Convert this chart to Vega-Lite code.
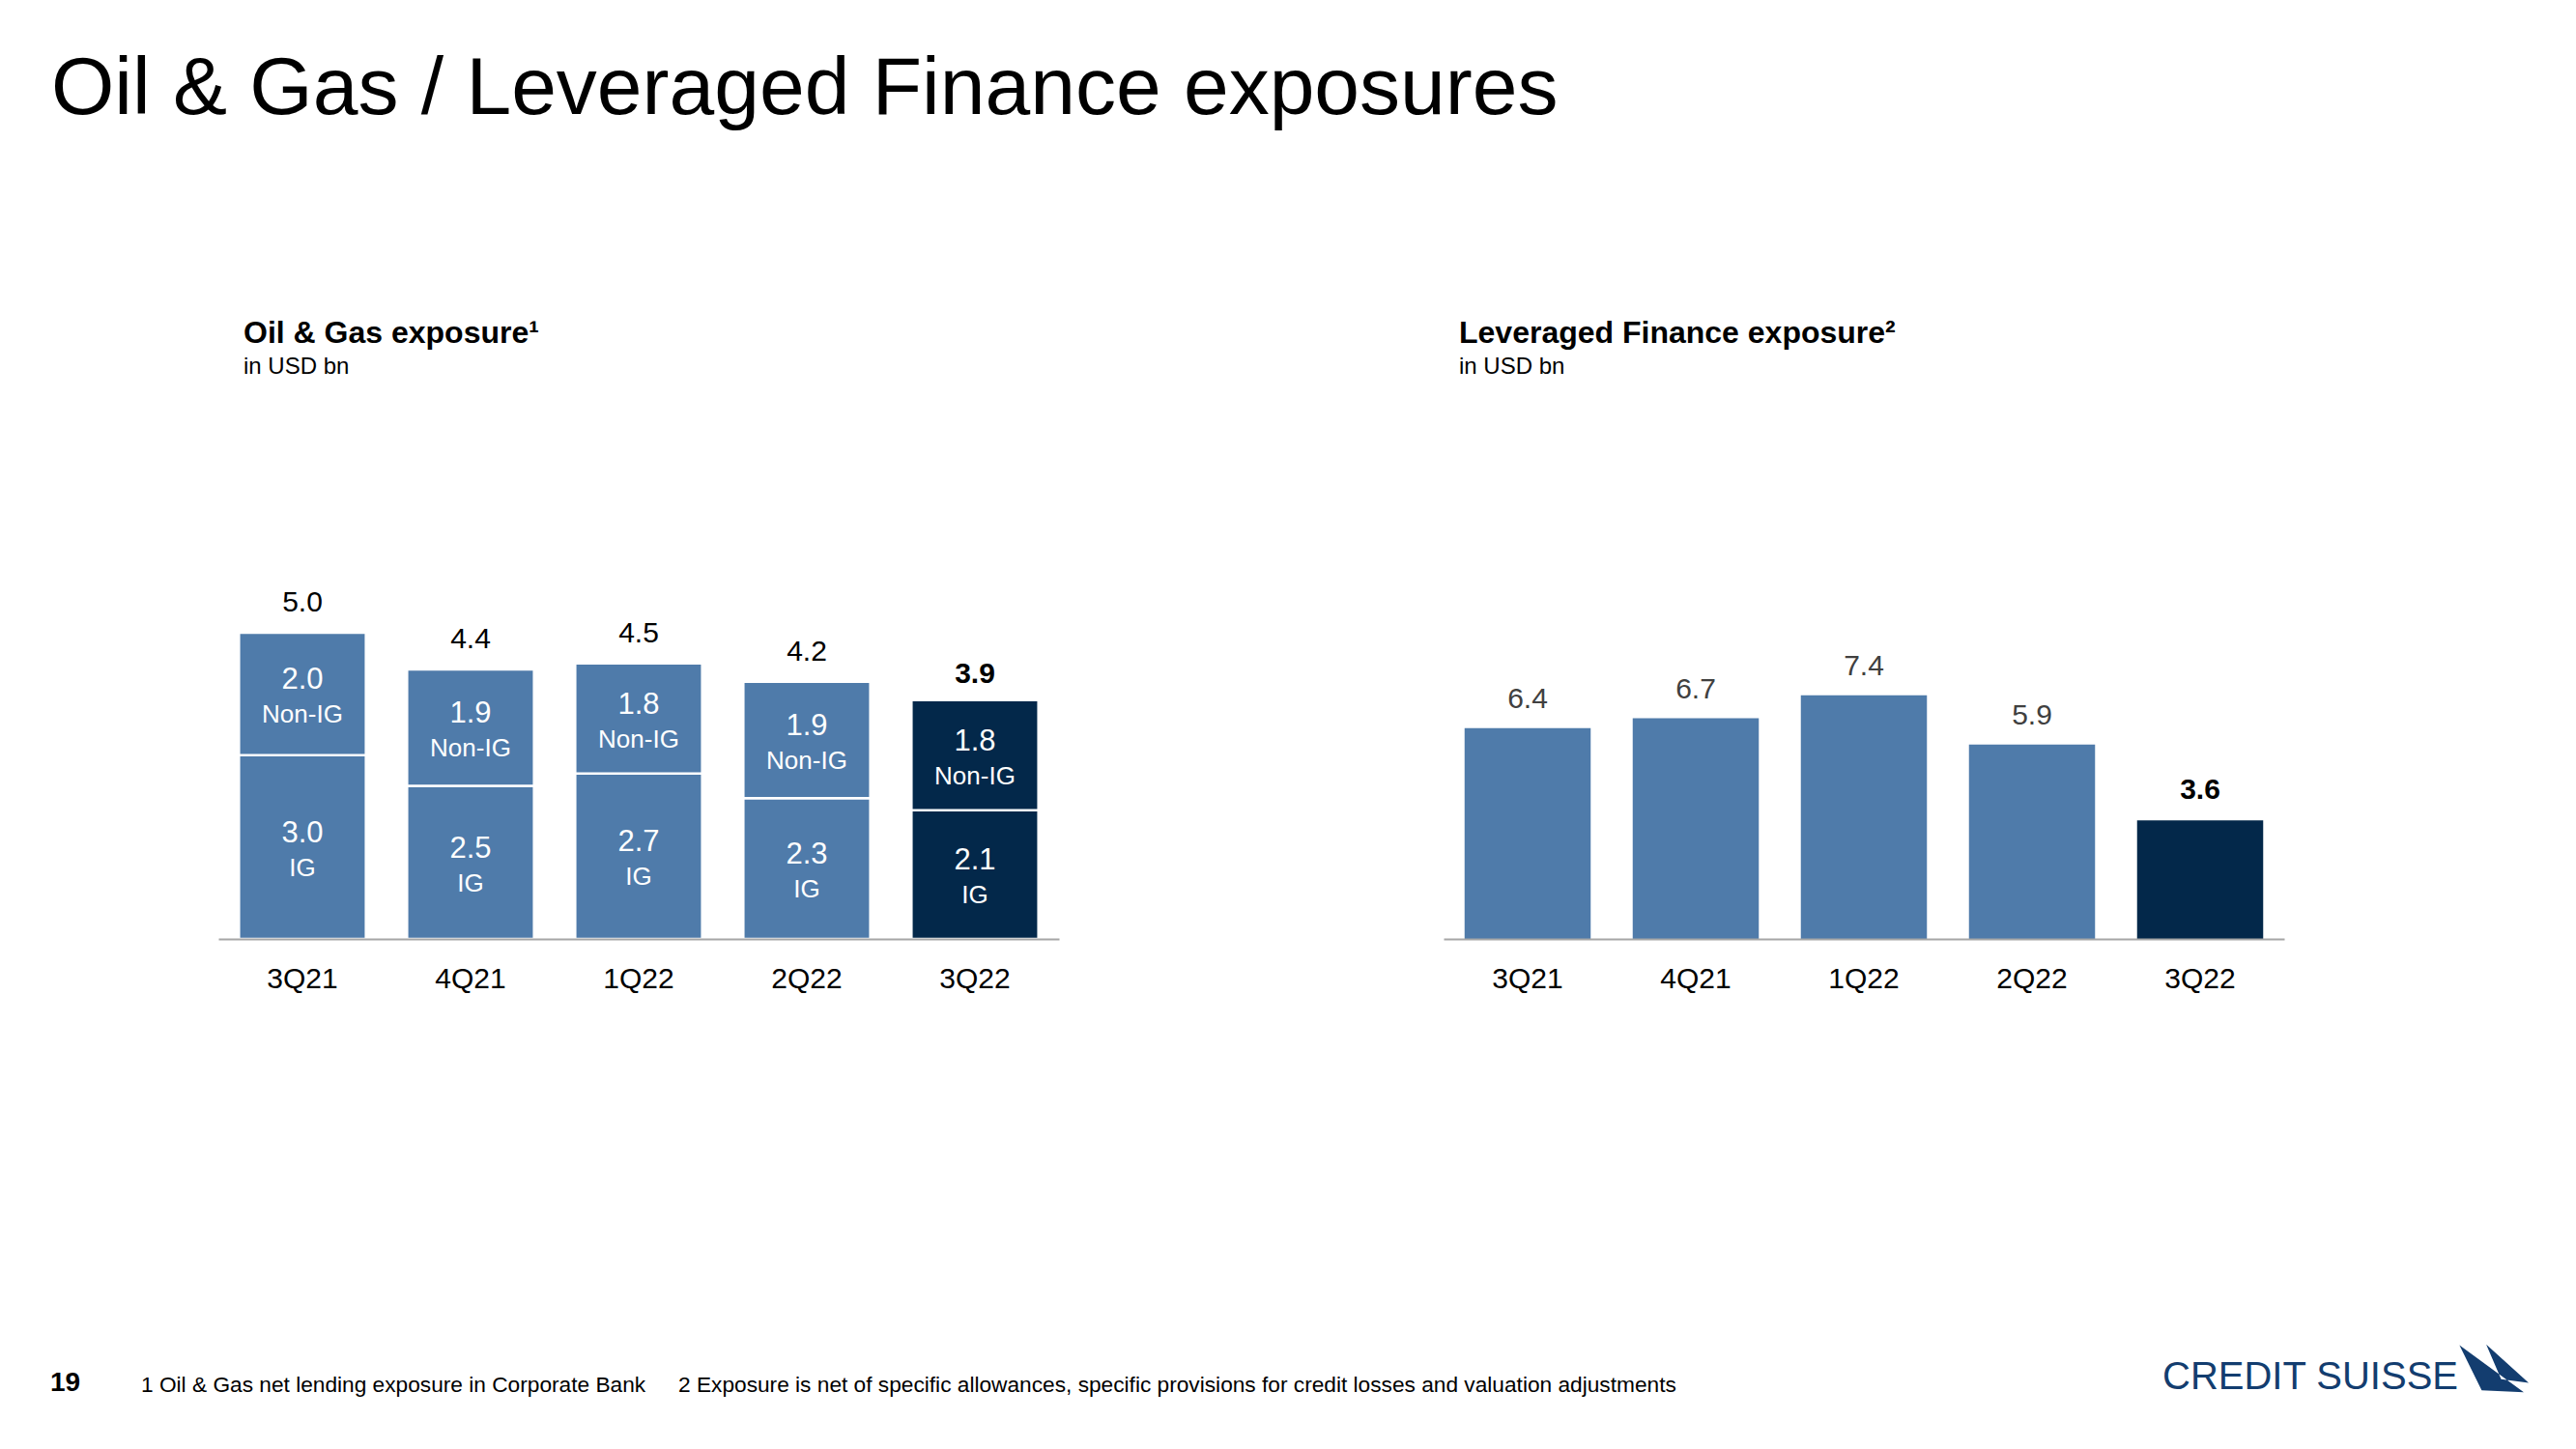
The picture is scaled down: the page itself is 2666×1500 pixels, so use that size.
{
  "$schema": "https://vega.github.io/schema/vega-lite/v6.json",
  "autosize": {"type": "pad"},
  "padding": {"left": 52, "top": 51, "right": 0, "bottom": 0},
  "background": "white",
  "config": {"font": "Liberation Sans", "view": {"stroke": null}},
  "datasets": {
    "og": [
      {"q": "3Q21", "grade": "IG", "value": 3.0},
      {"q": "3Q21", "grade": "Non-IG", "value": 2.0},
      {"q": "4Q21", "grade": "IG", "value": 2.5},
      {"q": "4Q21", "grade": "Non-IG", "value": 1.9},
      {"q": "1Q22", "grade": "IG", "value": 2.7},
      {"q": "1Q22", "grade": "Non-IG", "value": 1.8},
      {"q": "2Q22", "grade": "IG", "value": 2.3},
      {"q": "2Q22", "grade": "Non-IG", "value": 1.9},
      {"q": "3Q22", "grade": "IG", "value": 2.1},
      {"q": "3Q22", "grade": "Non-IG", "value": 1.8}
    ],
    "lf": [
      {"q": "3Q21", "value": 6.4},
      {"q": "4Q21", "value": 6.7},
      {"q": "1Q22", "value": 7.4},
      {"q": "2Q22", "value": 5.9},
      {"q": "3Q22", "value": 3.6}
    ],
    "logo": [{"part": "sail"}]
  },
  "title": {"text": "Oil & Gas / Leveraged Finance exposures", "fontSize": 84, "fontWeight": "normal", "anchor": "start", "color": "#000000", "offset": 193, "dx": 1},
  "spacing": 363,
  "vconcat": [
    {
      "spacing": 0,
      "hconcat": [
        {"width": 174, "height": 552, "data": {"values": []}, "mark": "point", "encoding": {}},
        {
          "width": 870,
          "height": 552,
          "title": {"text": "Oil & Gas exposure¹", "subtitle": "in USD bn", "anchor": "start", "fontSize": 32, "fontWeight": "bold", "color": "#000000", "subtitleFontSize": 24, "subtitleFontWeight": "normal", "subtitleColor": "#000000", "subtitlePadding": 6, "offset": 27, "dx": 26},
          "data": {"name": "og"},
          "encoding": {
            "x": {"field": "q", "type": "ordinal", "sort": ["3Q21", "4Q21", "1Q22", "2Q22", "3Q22"], "scale": {"paddingInner": 0.245, "paddingOuter": 0.1225},
              "axis": {"title": null, "labelAngle": 0, "labelFontSize": 30, "labelColor": "#000000", "labelPadding": 26, "ticks": false, "domainColor": "#A6A6A6", "domainWidth": 2, "zindex": 1}}
          },
          "layer": [
            {
              "mark": {"type": "bar", "stroke": "white", "strokeWidth": 2.5},
              "encoding": {
                "y": {"field": "value", "type": "quantitative", "stack": "zero", "scale": {"domain": [0, 8.707], "nice": false}, "axis": null},
                "detail": {"field": "grade", "type": "nominal"},
                "order": {"field": "grade", "type": "ordinal", "sort": "ascending"},
                "color": {"condition": {"test": "datum.q === '3Q22'", "value": "#03284A"}, "value": "#4F7BAA"}
              }
            },
            {
              "transform": [
                {"stack": "value", "groupby": ["q"], "sort": [{"field": "grade", "order": "ascending"}], "as": ["v0", "v1"]},
                {"fold": ["v0", "v1"], "as": ["edge", "pos"]},
                {"aggregate": [{"op": "mean", "field": "pos", "as": "mid"}, {"op": "mean", "field": "value", "as": "val"}], "groupby": ["q", "grade"]}
              ],
              "mark": {"type": "text", "color": "white", "fontSize": 31, "dy": -14, "baseline": "middle"},
              "encoding": {
                "y": {"field": "mid", "type": "quantitative", "scale": {"domain": [0, 8.707], "nice": false}, "axis": null},
                "text": {"field": "val", "type": "quantitative", "format": ".1f"}
              }
            },
            {
              "transform": [
                {"stack": "value", "groupby": ["q"], "sort": [{"field": "grade", "order": "ascending"}], "as": ["v0", "v1"]},
                {"fold": ["v0", "v1"], "as": ["edge", "pos"]},
                {"aggregate": [{"op": "mean", "field": "pos", "as": "mid"}], "groupby": ["q", "grade"]}
              ],
              "mark": {"type": "text", "color": "white", "fontSize": 26, "dy": 22, "baseline": "middle"},
              "encoding": {
                "y": {"field": "mid", "type": "quantitative", "scale": {"domain": [0, 8.707], "nice": false}, "axis": null},
                "text": {"field": "grade", "type": "nominal"}
              }
            },
            {
              "transform": [
                {"aggregate": [{"op": "sum", "field": "value", "as": "total"}], "groupby": ["q"]},
                {"filter": "datum.q !== '3Q22'"}
              ],
              "mark": {"type": "text", "color": "#000000", "fontSize": 30, "dy": -31, "baseline": "middle"},
              "encoding": {
                "y": {"field": "total", "type": "quantitative", "scale": {"domain": [0, 8.707], "nice": false}, "axis": null},
                "text": {"field": "total", "type": "quantitative", "format": ".1f"}
              }
            },
            {
              "transform": [
                {"aggregate": [{"op": "sum", "field": "value", "as": "total"}], "groupby": ["q"]},
                {"filter": "datum.q === '3Q22'"}
              ],
              "mark": {"type": "text", "color": "#000000", "fontSize": 30, "fontWeight": "bold", "dy": -27, "baseline": "middle"},
              "encoding": {
                "y": {"field": "total", "type": "quantitative", "scale": {"domain": [0, 8.707], "nice": false}, "axis": null},
                "text": {"field": "total", "type": "quantitative", "format": ".1f"}
              }
            }
          ]
        },
        {"width": 398, "height": 552, "data": {"values": []}, "mark": "point", "encoding": {}},
        {
          "width": 870,
          "height": 552,
          "title": {"text": "Leveraged Finance exposure²", "subtitle": "in USD bn", "anchor": "start", "fontSize": 32, "fontWeight": "bold", "color": "#000000", "subtitleFontSize": 24, "subtitleFontWeight": "normal", "subtitleColor": "#000000", "subtitlePadding": 6, "offset": 27, "dx": 16},
          "data": {"name": "lf"},
          "encoding": {
            "x": {"field": "q", "type": "ordinal", "sort": ["3Q21", "4Q21", "1Q22", "2Q22", "3Q22"], "scale": {"paddingInner": 0.25, "paddingOuter": 0.125},
              "axis": {"title": null, "labelAngle": 0, "labelFontSize": 30, "labelColor": "#000000", "labelPadding": 26, "ticks": false, "domainColor": "#A6A6A6", "domainWidth": 2, "zindex": 1}},
            "y": {"field": "value", "type": "quantitative", "scale": {"domain": [0, 16.19], "nice": false}, "axis": null}
          },
          "layer": [
            {
              "mark": {"type": "bar"},
              "encoding": {
                "color": {"condition": {"test": "datum.q === '3Q22'", "value": "#03284A"}, "value": "#4F7BAA"}
              }
            },
            {
              "transform": [{"filter": "datum.q !== '3Q22'"}],
              "mark": {"type": "text", "color": "#404040", "fontSize": 30, "dy": -30, "baseline": "middle"},
              "encoding": {"text": {"field": "value", "type": "quantitative", "format": ".1f"}}
            },
            {
              "transform": [{"filter": "datum.q === '3Q22'"}],
              "mark": {"type": "text", "color": "#000000", "fontSize": 30, "fontWeight": "bold", "dy": -31, "baseline": "middle"},
              "encoding": {"text": {"field": "value", "type": "quantitative", "format": ".1f"}}
            }
          ]
        }
      ]
    },
    {
      "spacing": 0,
      "hconcat": [
        {"width": 94, "height": 1, "data": {"values": []}, "mark": "point", "encoding": {},
          "title": {"text": "19", "fontSize": 28, "fontWeight": "bold", "anchor": "start", "color": "#000000", "offset": 0}},
        {"width": 556, "height": 1, "data": {"values": []}, "mark": "point", "encoding": {},
          "title": {"text": "1 Oil & Gas net lending exposure in Corporate Bank", "fontSize": 22.7, "fontWeight": "normal", "anchor": "start", "color": "#000000", "offset": 0}},
        {"width": 1536, "height": 1, "data": {"values": []}, "mark": "point", "encoding": {},
          "title": {"text": "2 Exposure is net of specific allowances, specific provisions for credit losses and valuation adjustments", "fontSize": 22.7, "fontWeight": "normal", "anchor": "start", "color": "#000000", "offset": 0}},
        {"width": 307, "height": 1, "data": {"values": []}, "mark": "point", "encoding": {},
          "title": {"text": "CREDIT SUISSE", "fontSize": 40, "fontWeight": "normal", "anchor": "start", "color": "#133D6F", "offset": 0}},
        {"width": 72, "height": 1, "data": {"name": "logo"},
          "mark": {"type": "point", "shape": "M-0.99,-0.67L-0.35,0.63L0.86,0.69Z M-0.22,-0.69L1,0.42L0.21,0.31Z", "size": 5184, "filled": true, "color": "#133D6F", "opacity": 1, "strokeWidth": 0, "yOffset": -30},
          "encoding": {}}
      ]
    }
  ]
}
